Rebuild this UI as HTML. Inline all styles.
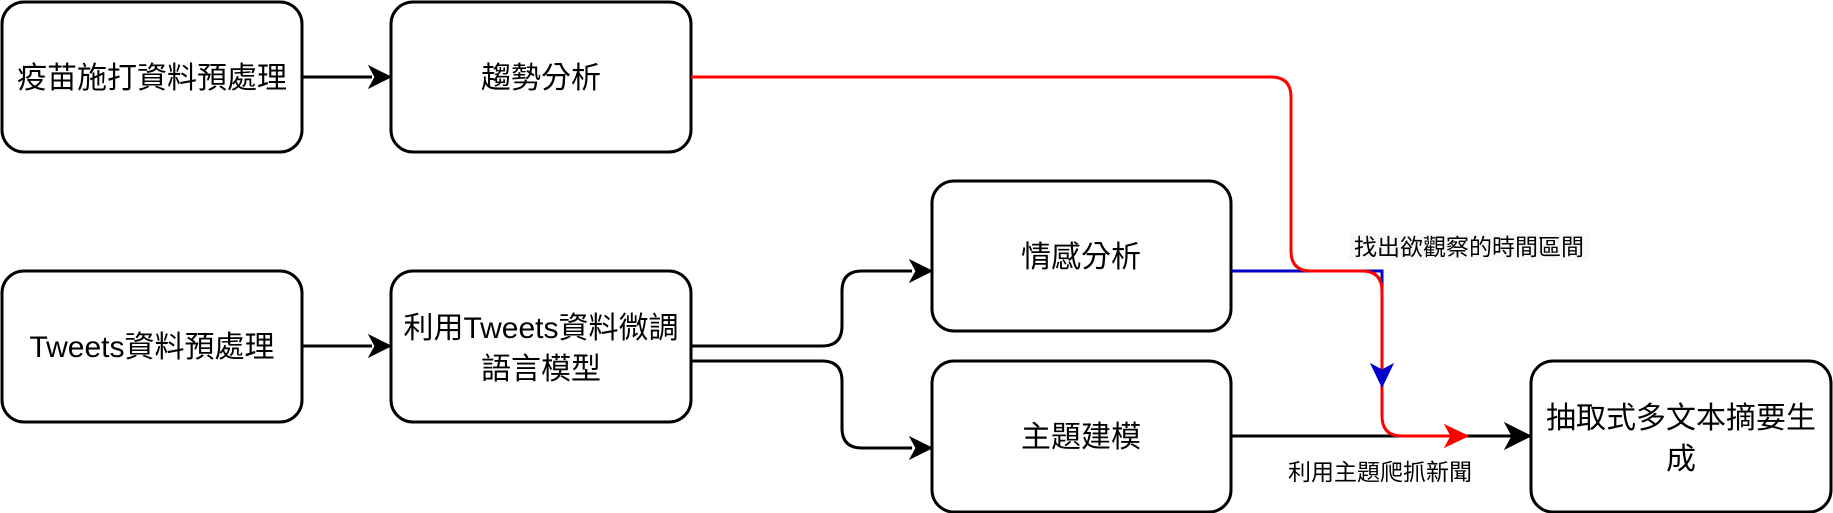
<!DOCTYPE html>
<html><head><meta charset="utf-8"><style>
html,body{margin:0;padding:0;background:#fff;width:1833px;height:513px;overflow:hidden}
svg text{font-family:"Liberation Sans","Noto Sans CJK TC",sans-serif;fill:#000}
</style></head><body>
<svg width="1833" height="513" viewBox="0 0 1833 513" xmlns="http://www.w3.org/2000/svg">
<g fill="#fff" stroke="#000" stroke-width="3">
<rect x="2" y="2" width="300" height="150" rx="22"/>
<rect x="391" y="2" width="300" height="150" rx="22"/>
<rect x="2" y="271" width="300" height="151" rx="22"/>
<rect x="391" y="271" width="300" height="151" rx="22"/>
<rect x="932" y="181" width="299" height="150" rx="22"/>
<rect x="932" y="361" width="299" height="151" rx="22"/>
<rect x="1531" y="361" width="300" height="151" rx="22"/>
</g>
<g fill="none" stroke-width="3">
<path d="M302 77H372" stroke="#000"/>
<path d="M302 346H372" stroke="#000"/>
<path d="M691 346H822Q842 346 842 326V291Q842 271 862 271H912" stroke="#000"/>
<path d="M691 361H822Q842 361 842 381V428Q842 448 862 448H912" stroke="#000"/>
<path d="M1231 436H1512" stroke="#000"/>
<path d="M1231 271H1382V378" stroke="#0000cc"/>
<path d="M691 77H1271Q1291 77 1291 97V251Q1291 271 1311 271H1362Q1382 271 1382 291V416Q1382 436 1402 436H1458" stroke="#ff0000"/>
</g>
<g stroke-width="1">
<path d="M391 77L369 66L375 77L369 88Z" fill="#000" stroke="#000"/>
<path d="M391 346L369 335L375 346L369 357Z" fill="#000" stroke="#000"/>
<path d="M932 271L910 260L916 271L910 282Z" fill="#000" stroke="#000"/>
<path d="M932 448L910 437L916 448L910 459Z" fill="#000" stroke="#000"/>
<path d="M1531 436L1505 423L1512 436L1505 449Z" fill="#000" stroke="#000"/>
<path d="M1382 387L1371 364L1382 370L1393 364Z" fill="#0000cc" stroke="#0000cc"/>
<path d="M1468 436L1445 425L1451 436L1445 447Z" fill="#ff0000" stroke="#ff0000"/>
</g>
<rect x="1349" y="233" width="240" height="28" fill="#f8f9fa"/>
<g font-size="30" text-anchor="middle">
<text x="152" y="88">疫苗施打資料預處理</text>
<text x="541" y="88">趨勢分析</text>
<text x="152" y="357">Tweets資料預處理</text>
<text x="541" y="338">利用Tweets資料微調</text>
<text x="541" y="379">語言模型</text>
<text x="1081" y="267">情感分析</text>
<text x="1081" y="447">主題建模</text>
<text x="1681" y="428">抽取式多文本摘要生</text>
<text x="1681" y="469">成</text>
</g>
<g font-size="23" text-anchor="middle">
<text x="1469" y="255">找出欲觀察的時間區間</text>
<text x="1380" y="480">利用主題爬抓新聞</text>
</g>
</svg>
</body></html>
